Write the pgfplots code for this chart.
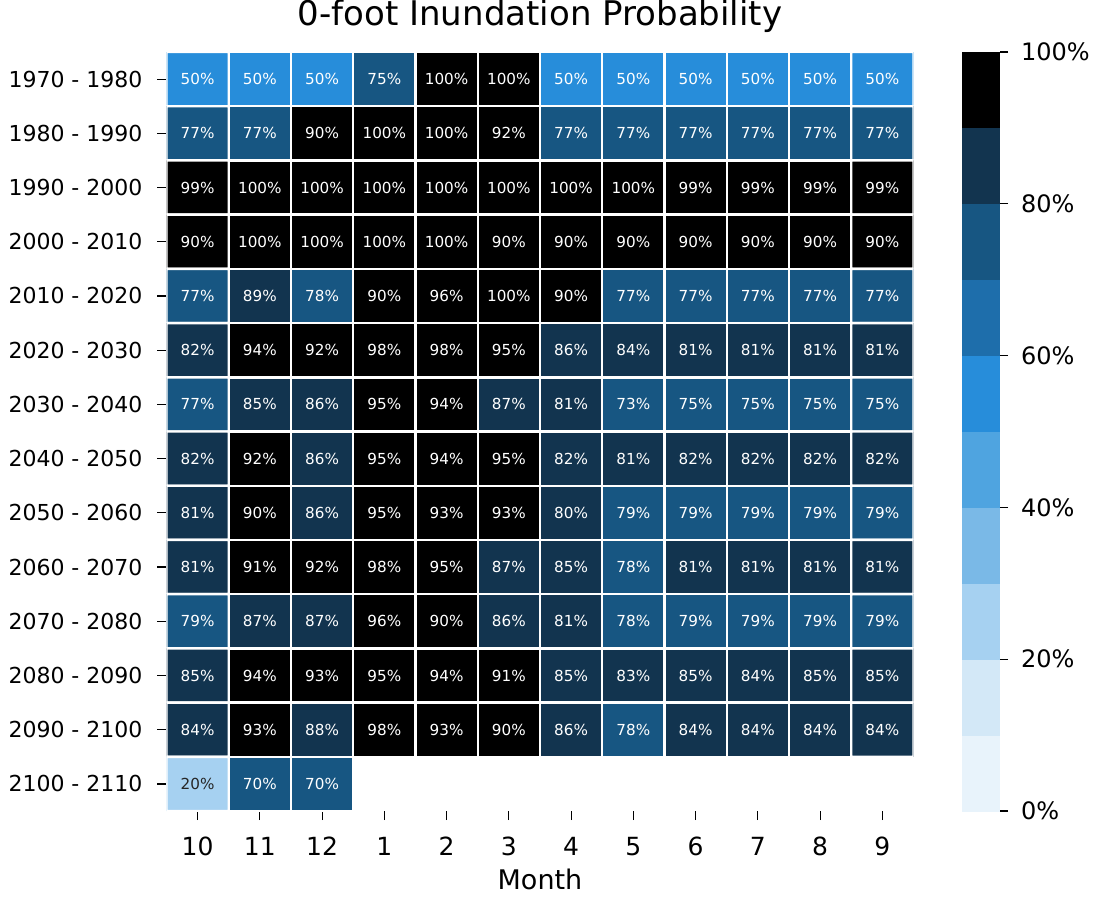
\documentclass[border=0pt]{standalone}
\usepackage{pgfplots}
\usepackage{pgfplotstable}
\pgfplotsset{compat=1.18}
\usepackage{fontspec}
\setmainfont{DejaVu Sans}
\definecolor{c0}{HTML}{E8F3FB}
\definecolor{c1}{HTML}{D3E8F7}
\definecolor{c2}{HTML}{A6D1F1}
\definecolor{c3}{HTML}{7AB9E7}
\definecolor{c4}{HTML}{4FA4E0}
\definecolor{c5}{HTML}{278DDA}
\definecolor{c6}{HTML}{1E6EAB}
\definecolor{c7}{HTML}{175682}
\definecolor{c8}{HTML}{12344F}
\definecolor{c9}{HTML}{000000}
\definecolor{darktxt}{HTML}{262626}
\pgfplotsset{/pgf/number format/assume math mode=true}

\pgfplotstableread{
x y v
0 0 50
1 0 50
2 0 50
3 0 75
4 0 100
5 0 100
6 0 50
7 0 50
8 0 50
9 0 50
10 0 50
11 0 50
0 1 77
1 1 77
2 1 90
3 1 100
4 1 100
5 1 92
6 1 77
7 1 77
8 1 77
9 1 77
10 1 77
11 1 77
0 2 99
1 2 100
2 2 100
3 2 100
4 2 100
5 2 100
6 2 100
7 2 100
8 2 99
9 2 99
10 2 99
11 2 99
0 3 90
1 3 100
2 3 100
3 3 100
4 3 100
5 3 90
6 3 90
7 3 90
8 3 90
9 3 90
10 3 90
11 3 90
0 4 77
1 4 89
2 4 78
3 4 90
4 4 96
5 4 100
6 4 90
7 4 77
8 4 77
9 4 77
10 4 77
11 4 77
0 5 82
1 5 94
2 5 92
3 5 98
4 5 98
5 5 95
6 5 86
7 5 84
8 5 81
9 5 81
10 5 81
11 5 81
0 6 77
1 6 85
2 6 86
3 6 95
4 6 94
5 6 87
6 6 81
7 6 73
8 6 75
9 6 75
10 6 75
11 6 75
0 7 82
1 7 92
2 7 86
3 7 95
4 7 94
5 7 95
6 7 82
7 7 81
8 7 82
9 7 82
10 7 82
11 7 82
0 8 81
1 8 90
2 8 86
3 8 95
4 8 93
5 8 93
6 8 80
7 8 79
8 8 79
9 8 79
10 8 79
11 8 79
0 9 81
1 9 91
2 9 92
3 9 98
4 9 95
5 9 87
6 9 85
7 9 78
8 9 81
9 9 81
10 9 81
11 9 81
0 10 79
1 10 87
2 10 87
3 10 96
4 10 90
5 10 86
6 10 81
7 10 78
8 10 79
9 10 79
10 10 79
11 10 79
0 11 85
1 11 94
2 11 93
3 11 95
4 11 94
5 11 91
6 11 85
7 11 83
8 11 85
9 11 84
10 11 85
11 11 85
0 12 84
1 12 93
2 12 88
3 12 98
4 12 93
5 12 90
6 12 86
7 12 78
8 12 84
9 12 84
10 12 84
11 12 84
0 13 20
1 13 70
2 13 70
3 13 nan
4 13 nan
5 13 nan
6 13 nan
7 13 nan
8 13 nan
9 13 nan
10 13 nan
11 13 nan
}\data

\begin{document}
\begin{tikzpicture}[x=1pt,y=1pt]
\useasboundingbox (-83.25,-42.5) rectangle (467.75,405.5);
\begin{axis}[
  at={(0,0)}, anchor=south west,
  width=373.5pt, height=379.5pt, scale only axis,
  xmin=-0.5, xmax=11.5, ymin=-0.5, ymax=13.5, y dir=reverse,
  axis line style={draw=none},
  xtick={0,...,11}, xticklabels={10,11,12,1,2,3,4,5,6,7,8,9},
  ytick={0,...,13},
  yticklabels={1970 - 1980,1980 - 1990,1990 - 2000,2000 - 2010,2010 - 2020,2020 - 2030,2030 - 2040,2040 - 2050,2050 - 2060,2060 - 2070,2070 - 2080,2080 - 2090,2090 - 2100,2100 - 2110},
  tick pos=left, tick align=outside,
  major tick length=4.5pt,
  tick style={black, line width=0.6pt},
  xticklabel style={font=\fontsize{12.5}{12.5}\selectfont, yshift=-5pt},
  yticklabel style={font=\fontsize{11}{11}\selectfont, xshift=-4pt},
  xlabel={Month}, xlabel style={font=\fontsize{13.5}{13.5}\selectfont, yshift=0.5pt},
  title={0-foot Inundation Probability},
  title style={font=\fontsize{17}{17}\selectfont},
  colormap={bins}{color=(c0) color=(c1) color=(c2) color=(c3) color=(c4) color=(c5) color=(c6) color=(c7) color=(c8) color=(c9)},
  colormap access=piecewise constant,
  point meta min=0, point meta max=100,
  colorbar,
  colorbar shift/.style={},
  colorbar style={
    at={(parent axis.south east)}, anchor=south west, xshift=24.25pt,
    scale only axis, width=19pt,
    axis line style={draw=none},
    xtick=\empty,
    ytick={0,20,...,100},
    ytick pos=right,
    yticklabel={\pgfmathprintnumber{\tick}\%},
    yticklabel style={font=\fontsize{12}{12}\selectfont, xshift=3pt},
    major tick length=4pt, tick align=outside,
    tick style={black, line width=0.6pt},
  },
]
\addplot[matrix plot*, mesh/cols=12, draw=white, line width=1.2pt,
  unbounded coords=jump,
  point meta={\thisrow{v}+0.5}] table[x=x,y=y] {\data};
\addplot[only marks, mark=none, point meta=explicit symbolic,
  nodes near coords={\pgfplotspointmeta\%},
  nodes near coords align=center,
  every node near coord/.append style={text=white, font=\fontsize{7.6}{7.6}\selectfont, anchor=center},
  skip coords between index={156}{157},
  skip coords between index={159}{168}] table[x=x,y=y,meta=v] {\data};
\addplot[only marks, mark=none, point meta=explicit symbolic,
  nodes near coords={\pgfplotspointmeta\%},
  nodes near coords align=center,
  every node near coord/.append style={text=darktxt, font=\fontsize{7.6}{7.6}\selectfont, anchor=center},
  skip coords between index={0}{156},
  skip coords between index={157}{168}] table[x=x,y=y,meta=v] {\data};
\end{axis}
\end{tikzpicture}
\end{document}
